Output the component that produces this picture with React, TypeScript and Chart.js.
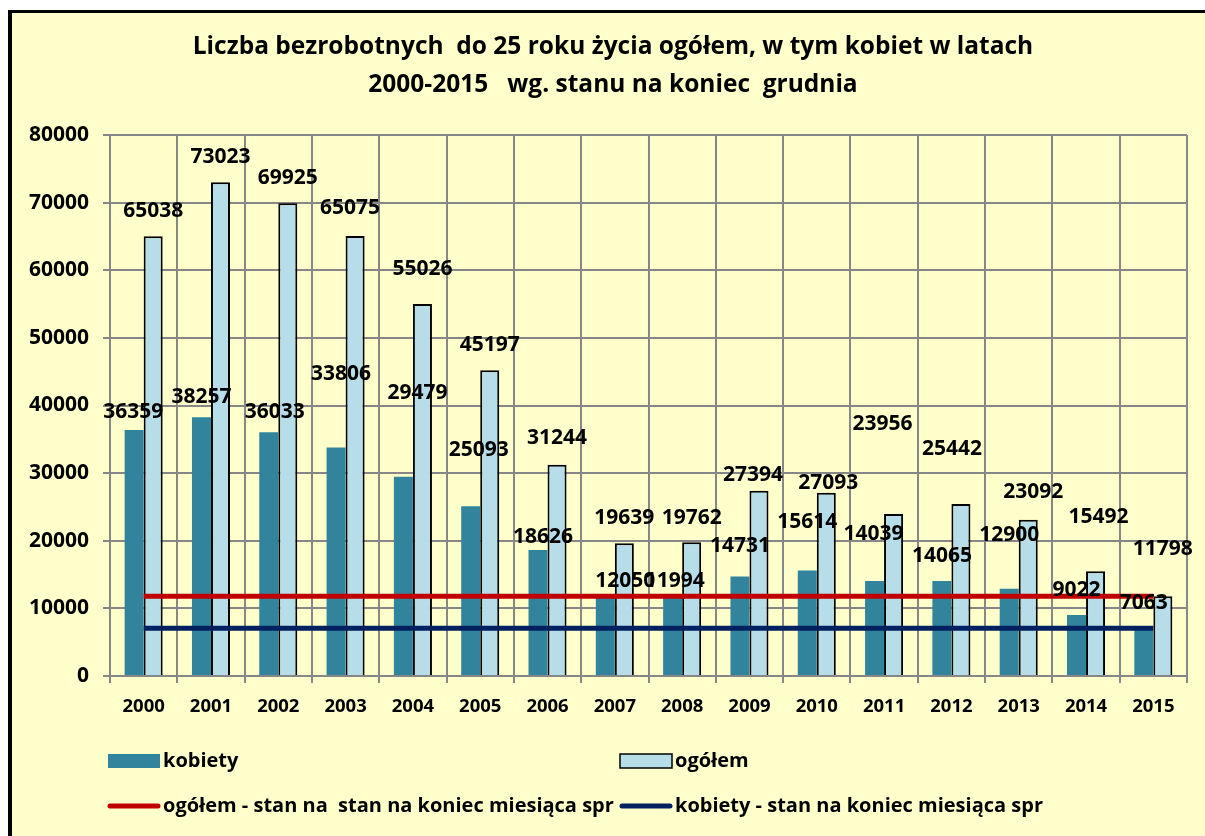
import React, { useEffect, useRef } from "react";
import { Chart, registerables } from "chart.js";

Chart.register(...registerables);

// ---------- data ----------
const years = ["2000", "2001", "2002", "2003", "2004", "2005", "2006", "2007", "2008", "2009", "2010", "2011", "2012", "2013", "2014", "2015"];
const kobiety = [36359, 38257, 36033, 33806, 29479, 25093, 18626, 12050, 11994, 14731, 15614, 14039, 14065, 12900, 9022, 7063];
const ogolem = [65038, 73023, 69925, 65075, 55026, 45197, 31244, 19639, 19762, 27394, 27093, 23956, 25442, 23092, 15492, 11798];
const ogolemStanKoniec = 11798;
const kobietyStanKoniec = 7063;
const yMax = 80000;
const yStep = 10000;

const titleLines = [
  "Liczba bezrobotnych  do 25 roku życia ogółem, w tym kobiet w latach",
  "2000-2015   wg. stanu na koniec  grudnia",
];
const legendLabels = [
  "kobiety",
  "ogółem",
  "ogółem - stan na  stan na koniec miesiąca spr",
  "kobiety - stan na koniec miesiąca spr",
];

// label nudges (px) relative to top-centre of each bar, as placed in the original
const kobietyLabelNudge = [[-1, -18], [0, -20], [6, -20], [5, -73], [14, -84], [8, -56], [5, -13], [20, -13], [2, -14], [0, -30], [0, -48], [-1, -47], [0, -25], [0, -54], [0, -25], [0, -25]];
const ogolemLabelNudge = [[0, -25], [0, -25], [0, -25], [-5, -28], [0, -35], [0, -25], [0, -27], [0, -25], [0, -24], [-6, -16], [2, -10], [-11, -90], [-9, -55], [5, -28], [3, -54], [0, -47]];

// ---------- styles ----------
const FONT = "'Open Sans', 'Noto Sans', sans-serif";
const C_KOB = "#31849B";
const C_OGO = "#B7DEE8";
const C_RED = "#C00000";
const C_NAVY = "#002060";
const C_GRID = "#878787";
const C_BG = "#FFFFCC";

const framePlugin = {
  id: "frame",
  beforeDraw(chart: any) {
    const { ctx, width, height } = chart;
    ctx.save();
    ctx.fillStyle = "#ffffff";
    ctx.fillRect(0, 0, width, height);
    ctx.fillStyle = "#000000";
    ctx.fillRect(8, 10, width, height);
    ctx.fillStyle = C_BG;
    ctx.fillRect(12, 13, width, height);
    ctx.restore();
  },
};

const titlePlugin = {
  id: "titleText",
  afterDraw(chart: any) {
    const { ctx } = chart;
    ctx.save();
    ctx.fillStyle = "#000";
    ctx.font = `bold 24.5px ${FONT}`;
    ctx.textAlign = "center";
    ctx.textBaseline = "middle";
    const cx = 613;
    ctx.fillText(titleLines[0], cx, 47);
    ctx.fillText(titleLines[1], cx, 85);
    ctx.restore();
  },
};

const labelsPlugin = {
  id: "valueLabels",
  afterDatasetsDraw(chart: any) {
    const { ctx } = chart;
    ctx.save();
    ctx.fillStyle = "#000";
    ctx.font = `bold 21px ${FONT}`;
    ctx.textAlign = "center";
    ctx.textBaseline = "middle";
    const draw = (dsIndex: number, values: number[], nudge: number[][]) => {
      const meta = chart.getDatasetMeta(dsIndex);
      meta.data.forEach((el: any, i: number) => {
        const [dx, dy] = nudge[i];
        ctx.fillText(String(values[i]), el.x + dx, el.y + dy);
      });
    };
    draw(0, kobiety, kobietyLabelNudge);
    draw(1, ogolem, ogolemLabelNudge);
    ctx.restore();
  },
};

const legendPlugin = {
  id: "customLegend",
  afterDraw(chart: any) {
    const { ctx } = chart;
    ctx.save();
    ctx.font = `bold 20px ${FONT}`;
    ctx.textBaseline = "middle";
    ctx.fillStyle = "#000";
    const cols = [108, 620];
    const rows = [761, 806];
    const sw = 52;
    ctx.fillStyle = C_KOB;
    ctx.fillRect(cols[0], rows[0] - 7, sw, 14);
    ctx.fillStyle = C_OGO;
    ctx.fillRect(cols[1], rows[0] - 7, sw, 14);
    ctx.strokeStyle = "#000";
    ctx.lineWidth = 1.5;
    ctx.strokeRect(cols[1], rows[0] - 7, sw, 14);
    ctx.lineCap = "round";
    ctx.lineWidth = 5;
    ctx.strokeStyle = C_RED;
    ctx.beginPath();
    ctx.moveTo(cols[0] + 2, rows[1]);
    ctx.lineTo(cols[0] + sw - 2, rows[1]);
    ctx.stroke();
    ctx.strokeStyle = C_NAVY;
    ctx.beginPath();
    ctx.moveTo(cols[1] + 2, rows[1]);
    ctx.lineTo(cols[1] + sw - 2, rows[1]);
    ctx.stroke();
    ctx.fillStyle = "#000";
    ctx.fillText(legendLabels[0], cols[0] + sw + 3, rows[0]);
    ctx.fillText(legendLabels[1], cols[1] + sw + 3, rows[0]);
    ctx.fillText(legendLabels[2], cols[0] + sw + 3, rows[1]);
    ctx.fillText(legendLabels[3], cols[1] + sw + 3, rows[1]);
    ctx.restore();
  },
};

export default function App() {
  const ref = useRef<HTMLCanvasElement | null>(null);
  useEffect(() => {
    if (!ref.current) return;
    const chart = new Chart(ref.current, {
      type: "bar",
      data: {
        labels: years,
        datasets: [
          {
            type: "bar",
            label: legendLabels[0],
            data: kobiety,
            backgroundColor: C_KOB,
            borderWidth: 0,
            categoryPercentage: 0.565,
            barPercentage: 1,
            order: 2,
          },
          {
            type: "bar",
            label: legendLabels[1],
            data: ogolem,
            backgroundColor: C_OGO,
            borderColor: "#000",
            borderWidth: 2,
            categoryPercentage: 0.565,
            barPercentage: 1,
            order: 2,
          },
          {
            type: "line",
            label: legendLabels[2],
            data: years.map(() => ogolemStanKoniec),
            borderColor: C_RED,
            borderWidth: 5,
            pointRadius: 0,
            fill: false,
            order: 1,
          },
          {
            type: "line",
            label: legendLabels[3],
            data: years.map(() => kobietyStanKoniec),
            borderColor: C_NAVY,
            borderWidth: 5,
            pointRadius: 0,
            fill: false,
            order: 0,
          },
        ],
      } as any,
      options: {
        responsive: false,
        animation: false,
        layout: { padding: { left: 0, top: 135, right: 18, bottom: 0 } },
        plugins: {
          legend: { display: false },
          title: { display: false },
          tooltip: { enabled: false },
        },
        scales: {
          x: {
            offset: true,
            grid: { offset: true, color: C_GRID, lineWidth: 2, tickLength: 7, drawTicks: true },
            border: { color: C_GRID, width: 2 },
            ticks: { color: "#000", font: { family: FONT, size: 18.5, weight: "bold" }, padding: 13, maxRotation: 0 },
            afterFit: (s: any) => { s.height = 160; },
          },
          y: {
            min: 0,
            max: yMax,
            ticks: {
              stepSize: yStep,
              color: "#000",
              font: { family: FONT, size: 21, weight: "bold" },
              padding: 14,
              callback: (v: any) => String(v),
            },
            grid: { color: C_GRID, lineWidth: 2, tickLength: 7 },
            border: { color: C_GRID, width: 2 },
            afterFit: (s: any) => { s.width = 110; },
          },
        },
      } as any,
      plugins: [framePlugin, titlePlugin, labelsPlugin, legendPlugin],
    });
    return () => chart.destroy();
  }, []);
  return (
    <canvas
      ref={ref}
      width={1205}
      height={836}
      style={{ position: "fixed", left: 0, top: 0, width: 1205, height: 836, display: "block" }}
    />
  );
}
